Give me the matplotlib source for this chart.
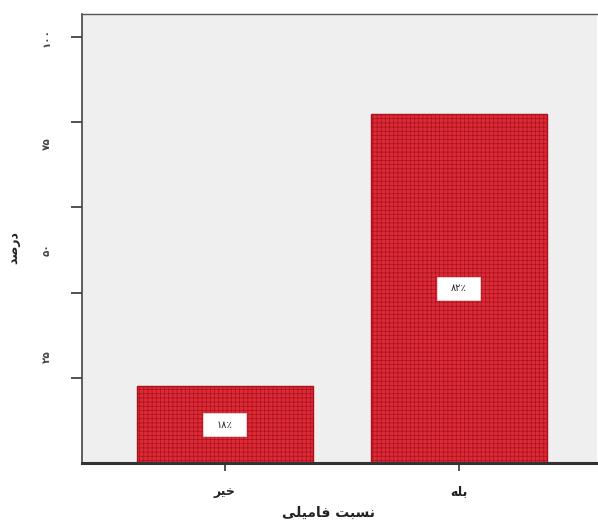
import matplotlib
matplotlib.use("Agg")
import matplotlib.pyplot as plt
from matplotlib.patches import Rectangle
from matplotlib.transforms import blended_transform_factory

# Persian text written in presentation forms, visual (left-to-right) order
categories = ["\uFEAE\uFEF4\uFEA7", "\uFEEA\uFEE0\uFE91"]          # خیر , بله
values = [18, 82]
value_labels = ["\u06F1\u06F8\u066A", "\u06F8\u06F2\u066A"]         # ۱۸٪ , ۸۲٪
ytick_values = [25, 50, 75, 100]
ytick_labels = ["\u06F2\u06F5", "\u06F5\u06F0", "\u06F7\u06F5", "\u06F1\u06F0\u06F0"]
ytick_marks = [20, 40, 60, 80, 100]
xlabel = "\uFEF0\uFEE0\uFEF4\uFEE3\uFE8E\uFED3 \uFE96\uFE92\uFEB4\uFEE7"  # نسبت فامیلی
ylabel = "\uFEAA\uFEBB\uFEAD\uFEA9"                                      # درصد

plt.rcParams['font.family'] = ['DejaVu Sans']
plt.rcParams['hatch.linewidth'] = 0.5

fig = plt.figure(figsize=(5.98, 5.21), dpi=100)
fig.patch.set_facecolor("white")
ax = fig.add_axes([0.1371, 0.1113, 0.861, 0.8618])
ax.set_facecolor("#efefef")

x = list(range(len(categories)))
bars = ax.bar(x, values, width=0.75, color="#dc2a36", edgecolor="#a8121e",
              linewidth=1.0, hatch="++++", zorder=2)

# white value boxes centred on each bar
box_w, box_h = 0.184, 5.4
for xi, v, lab in zip(x, values, value_labels):
    ax.add_patch(Rectangle((xi - box_w / 2, v / 2 - box_h / 2), box_w, box_h,
                           facecolor="white", edgecolor="#e8e8e8",
                           linewidth=0.5, zorder=3))
    ax.text(xi, v / 2, lab, ha="center", va="center", fontsize=7,
            color="#222222", zorder=4)

ax.set_xlim(-0.61, 1.59)
ax.set_ylim(0, 105.4)

ax.set_xticks(x)
ax.set_xticklabels(categories, fontsize=9, fontweight="bold", color="#222222")
ax.tick_params(axis="x", direction="out", length=6, width=1.2, pad=10,
               color="#333333")

ax.set_yticks(ytick_marks)
ax.set_yticklabels([""] * len(ytick_marks))
ax.tick_params(axis="y", direction="out", length=8, width=1.2,
               color="#333333")

trans = blended_transform_factory(ax.transAxes, ax.transData)
for v, lab in zip(ytick_values, ytick_labels):
    ax.text(-0.068, v, lab, transform=trans, rotation=90, ha="center",
            va="center", fontsize=7.5, fontweight="bold", color="#444444")

ax.set_xlabel(xlabel, fontsize=10, fontweight="bold", color="#222222")
ax.xaxis.set_label_coords(0.478, -0.095)
ax.set_ylabel(ylabel, fontsize=9, fontweight="bold", color="#222222",
              rotation=90)
ax.yaxis.set_label_coords(-0.12, 0.48)

ax.spines["left"].set_color("#444444")
ax.spines["left"].set_linewidth(1.2)
ax.spines["bottom"].set_color("#333333")
ax.spines["bottom"].set_linewidth(2.2)
ax.spines["top"].set_color("#555555")
ax.spines["top"].set_linewidth(1.0)
ax.spines["right"].set_visible(False)

fig.savefig("out.png", dpi=100, facecolor="white")
